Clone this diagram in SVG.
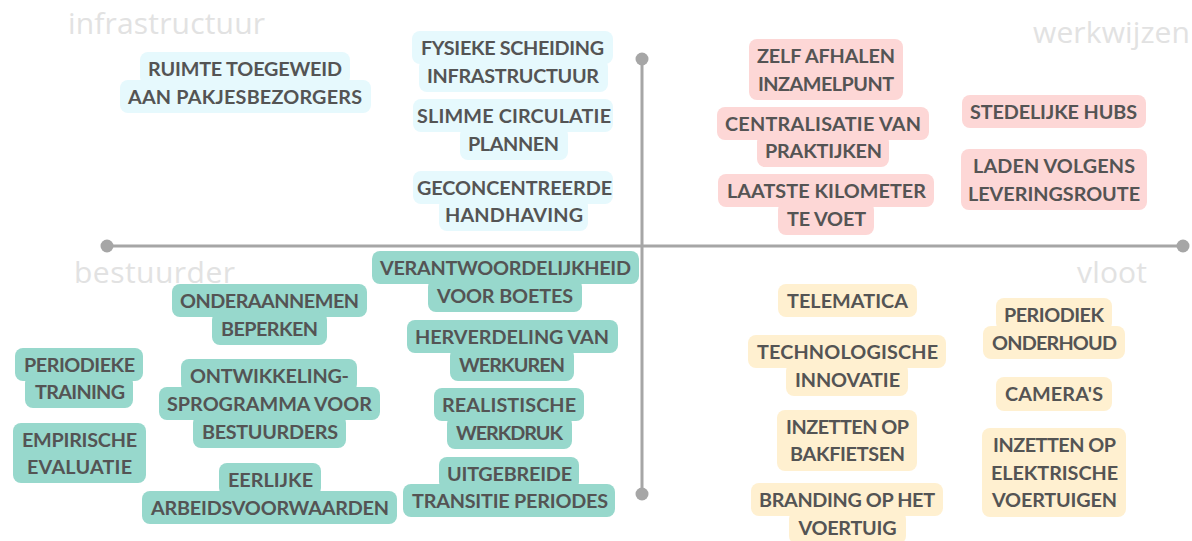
<svg xmlns="http://www.w3.org/2000/svg" width="1192" height="541" viewBox="0 0 1192 541">
  <style>
    .q { font-family: "Open Sans", "Liberation Sans", sans-serif; font-size: 30px; fill: #e2e2e2; }
    .t { font-family: Lato, "Liberation Sans", sans-serif; font-weight: 700; font-size: 19.8px; fill: #545454; text-anchor: middle; }
    .infra rect { fill: #e6f9fd; }
    .werk rect { fill: #fdd7d6; }
    .best rect { fill: #97d8cc; }
    .vloot rect { fill: #fff0d0; }
    .axis { stroke: #a6a6a6; stroke-width: 3; fill: none; }
    .dot { fill: #a6a6a6; }
  </style>
  <rect width="1192" height="541" fill="#ffffff"/>

  <!-- quadrant titles -->
  <g id="quadrant-titles">
    <text class="q" x="68" y="34" textLength="197">infrastructuur</text>
    <text class="q" x="1033" y="43" textLength="157">werkwijzen</text>
    <text class="q" x="74" y="283" textLength="161">bestuurder</text>
    <text class="q" x="1077" y="283" textLength="70">vloot</text>
  </g>

  <!-- axes -->
  <g id="connectors">
    <line class="axis" x1="107" y1="246" x2="1183" y2="246"/>
    <line class="axis" x1="642" y1="59" x2="642" y2="494"/>
    <circle class="dot" cx="107" cy="246" r="6.5"/>
    <circle class="dot" cx="1183" cy="246" r="6.5"/>
    <circle class="dot" cx="642" cy="59" r="6.5"/>
    <circle class="dot" cx="642" cy="494" r="6.5"/>
  </g>

  <!-- infrastructuur -->
  <g id="ruimte" class="infra">
    <rect x="140" y="52" width="210" height="33" rx="8"/>
    <rect x="120" y="80" width="251" height="33" rx="8"/>
    <text class="t" x="245" y="76" textLength="194">RUIMTE TOEGEWEID</text>
    <text class="t" x="245" y="104" textLength="234">AAN PAKJESBEZORGERS</text>
  </g>
  <g id="fysieke-scheiding" class="infra">
    <rect x="412" y="31" width="201" height="33" rx="8"/>
    <rect x="419" y="59" width="189" height="33" rx="8"/>
    <text class="t" x="512.5" y="55" textLength="183">FYSIEKE SCHEIDING</text>
    <text class="t" x="513" y="83" textLength="172">INFRASTRUCTUUR</text>
  </g>
  <g id="slimme-circulatie" class="infra">
    <rect x="413" y="99" width="200" height="33" rx="8"/>
    <rect x="460" y="127" width="108" height="33" rx="8"/>
    <text class="t" x="514" y="123" textLength="194">SLIMME CIRCULATIE</text>
    <text class="t" x="513.5" y="151" textLength="91">PLANNEN</text>
  </g>
  <g id="geconcentreerde-handhaving" class="infra">
    <rect x="413" y="171" width="200" height="33" rx="8"/>
    <rect x="439" y="198" width="149" height="33" rx="8"/>
    <text class="t" x="514.5" y="195" textLength="195">GECONCENTREERDE</text>
    <text class="t" x="514" y="222" textLength="138">HANDHAVING</text>
  </g>

  <!-- werkwijzen -->
  <g id="zelf-afhalen" class="werk">
    <rect x="749" y="39" width="154" height="61" rx="8"/>
    <text class="t" x="826" y="63" textLength="138">ZELF AFHALEN</text>
    <text class="t" x="826" y="91" textLength="136">INZAMELPUNT</text>
  </g>
  <g id="centralisatie" class="werk">
    <rect x="717" y="107" width="212" height="33" rx="8"/>
    <rect x="757" y="134" width="132" height="33" rx="8"/>
    <text class="t" x="823" y="131" textLength="196">CENTRALISATIE VAN</text>
    <text class="t" x="823.5" y="158" textLength="117">PRAKTIJKEN</text>
  </g>
  <g id="laatste-kilometer" class="werk">
    <rect x="718" y="174" width="216" height="33" rx="8"/>
    <rect x="778" y="202" width="96" height="33" rx="8"/>
    <text class="t" x="826.5" y="198" textLength="199">LAATSTE KILOMETER</text>
    <text class="t" x="826.5" y="226" textLength="79">TE VOET</text>
  </g>
  <g id="stedelijke-hubs" class="werk">
    <rect x="962" y="95" width="184" height="33" rx="8"/>
    <text class="t" x="1053.5" y="119" textLength="167">STEDELIJKE HUBS</text>
  </g>
  <g id="laden-volgens" class="werk">
    <rect x="961" y="149" width="186" height="61" rx="8"/>
    <text class="t" x="1054" y="173" textLength="162">LADEN VOLGENS</text>
    <text class="t" x="1054" y="201" textLength="172">LEVERINGSROUTE</text>
  </g>

  <!-- bestuurder -->
  <g id="onderaannemen" class="best">
    <rect x="172" y="284" width="195" height="33" rx="8"/>
    <rect x="212" y="312" width="115" height="33" rx="8"/>
    <text class="t" x="269.5" y="308" textLength="179">ONDERAANNEMEN</text>
    <text class="t" x="269.5" y="336" textLength="97">BEPERKEN</text>
  </g>
  <g id="periodieke-training" class="best">
    <rect x="15" y="348" width="128" height="33" rx="8"/>
    <rect x="25" y="375" width="108" height="33" rx="8"/>
    <text class="t" x="79.5" y="372" textLength="111">PERIODIEKE</text>
    <text class="t" x="80" y="399" textLength="90">TRAINING</text>
  </g>
  <g id="empirische-evaluatie" class="best">
    <rect x="13" y="423" width="133" height="60" rx="8"/>
    <text class="t" x="79.5" y="447" textLength="115">EMPIRISCHE</text>
    <text class="t" x="79.5" y="474" textLength="105">EVALUATIE</text>
  </g>
  <g id="ontwikkelingsprogramma" class="best">
    <rect x="181" y="359" width="176" height="33" rx="8"/>
    <rect x="159" y="387" width="221" height="33" rx="8"/>
    <rect x="193" y="415" width="153" height="33" rx="8"/>
    <text class="t" x="269.5" y="383" textLength="159">ONTWIKKELING-</text>
    <text class="t" x="269.5" y="411" textLength="205">SPROGRAMMA VOOR</text>
    <text class="t" x="270" y="439" textLength="136">BESTUURDERS</text>
  </g>
  <g id="eerlijke-arbeidsvoorwaarden" class="best">
    <rect x="219" y="463" width="102" height="33" rx="8"/>
    <rect x="142" y="491" width="255" height="33" rx="8"/>
    <text class="t" x="270.5" y="487" textLength="85">EERLIJKE</text>
    <text class="t" x="270" y="515" textLength="238">ARBEIDSVOORWAARDEN</text>
  </g>
  <g id="verantwoordelijkheid" class="best">
    <rect x="372" y="251" width="267" height="33" rx="8"/>
    <rect x="428" y="279" width="154" height="33" rx="8"/>
    <text class="t" x="505.5" y="275" textLength="251">VERANTWOORDELIJKHEID</text>
    <text class="t" x="505" y="303" textLength="136">VOOR BOETES</text>
  </g>
  <g id="herverdeling" class="best">
    <rect x="407" y="320" width="211" height="33" rx="8"/>
    <rect x="450" y="348" width="124" height="33" rx="8"/>
    <text class="t" x="512" y="344" textLength="194">HERVERDELING VAN</text>
    <text class="t" x="512" y="372" textLength="106">WERKUREN</text>
  </g>
  <g id="realistische-werkdruk" class="best">
    <rect x="434" y="388" width="150" height="33" rx="8"/>
    <rect x="447" y="416" width="125" height="33" rx="8"/>
    <text class="t" x="509" y="412" textLength="134">REALISTISCHE</text>
    <text class="t" x="509.5" y="440" textLength="107">WERKDRUK</text>
  </g>
  <g id="uitgebreide-transitie" class="best">
    <rect x="439" y="457" width="140" height="33" rx="8"/>
    <rect x="403" y="484" width="212" height="33" rx="8"/>
    <text class="t" x="509.5" y="481" textLength="125">UITGEBREIDE</text>
    <text class="t" x="510" y="508" textLength="196">TRANSITIE PERIODES</text>
  </g>

  <!-- vloot -->
  <g id="telematica" class="vloot">
    <rect x="778" y="284" width="139" height="33" rx="8"/>
    <text class="t" x="847.5" y="308" textLength="121">TELEMATICA</text>
  </g>
  <g id="technologische-innovatie" class="vloot">
    <rect x="748" y="335" width="198" height="33" rx="8"/>
    <rect x="786" y="363" width="122" height="33" rx="8"/>
    <text class="t" x="847.5" y="359" textLength="181">TECHNOLOGISCHE</text>
    <text class="t" x="847.5" y="387" textLength="105">INNOVATIE</text>
  </g>
  <g id="bakfietsen" class="vloot">
    <rect x="777" y="410" width="140" height="61" rx="8"/>
    <text class="t" x="847.5" y="434" textLength="123">INZETTEN OP</text>
    <text class="t" x="847.5" y="461" textLength="115">BAKFIETSEN</text>
  </g>
  <g id="branding" class="vloot">
    <rect x="751" y="483" width="192" height="33" rx="8"/>
    <rect x="789" y="511" width="117" height="33" rx="8"/>
    <text class="t" x="847" y="507" textLength="176">BRANDING OP HET</text>
    <text class="t" x="847.5" y="535" textLength="98">VOERTUIG</text>
  </g>
  <g id="periodiek-onderhoud" class="vloot">
    <rect x="996" y="298" width="116" height="33" rx="8"/>
    <rect x="983" y="326" width="142" height="33" rx="8"/>
    <text class="t" x="1054" y="322" textLength="100">PERIODIEK</text>
    <text class="t" x="1054.5" y="350" textLength="125">ONDERHOUD</text>
  </g>
  <g id="cameras" class="vloot">
    <rect x="996" y="377" width="116" height="34" rx="8"/>
    <text class="t" x="1054" y="401" textLength="98">CAMERA'S</text>
  </g>
  <g id="elektrische-voertuigen" class="vloot">
    <rect x="982" y="428" width="144" height="89" rx="8"/>
    <text class="t" x="1054.5" y="452" textLength="123">INZETTEN OP</text>
    <text class="t" x="1054.5" y="480" textLength="127">ELEKTRISCHE</text>
    <text class="t" x="1054.5" y="507" textLength="125">VOERTUIGEN</text>
  </g>
</svg>
